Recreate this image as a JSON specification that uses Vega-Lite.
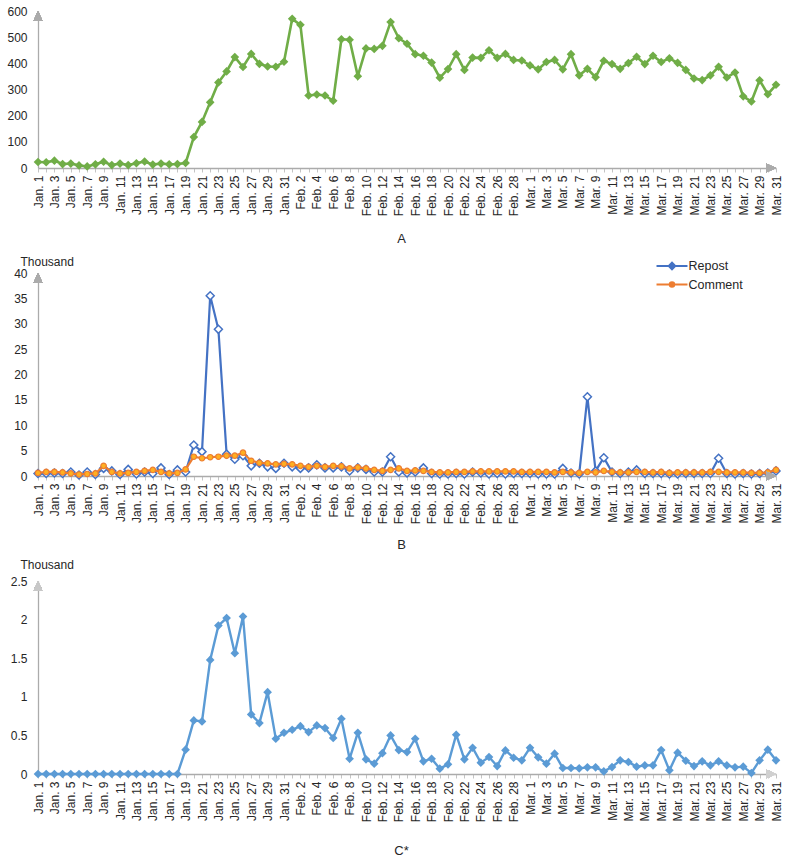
{
  "$schema": "https://vega.github.io/schema/vega-lite/v6.json",
  "background": "white",
  "padding": {"left": 6, "top": 5, "right": 5, "bottom": 5},
  "bounds": "flush",
  "spacing": 105,
  "config": {
    "font": "Liberation Sans",
    "view": {"stroke": null},
    "axis": {"grid": false, "labelFont": "Liberation Sans", "labelFontSize": 12, "labelColor": "#262626", "domainColor": "#ABABAB", "domainWidth": 1.3, "tickColor": "#C4C4C4", "titleFont": "Liberation Sans", "titleFontWeight": "normal", "titleFontSize": 13, "titleColor": "#262626"},
    "axisY": {"ticks": false, "labelPadding": 11, "labelOverlap": false, "labelFlush": false, "labelBound": false, "format": "~r"},
    "axisX": {"tickSize": 4, "labelAngle": -90, "labelPadding": 3, "labelOverlap": false, "labelFlush": false, "labelBound": false}
  },
  "resolve": {"scale": {"x": "independent", "y": "independent", "stroke": "independent"}},
  "datasets": {
    "a": [
      {"day":1,"date":"Jan. 1","value":23},{"day":2,"date":"Jan. 2","value":22},{"day":3,"date":"Jan. 3","value":28},{"day":4,"date":"Jan. 4","value":15},{"day":5,"date":"Jan. 5","value":17},{"day":6,"date":"Jan. 6","value":10},{"day":7,"date":"Jan. 7","value":6},{"day":8,"date":"Jan. 8","value":14},{"day":9,"date":"Jan. 9","value":24},{"day":10,"date":"Jan. 10","value":11},{"day":11,"date":"Jan. 11","value":17},{"day":12,"date":"Jan. 12","value":11},{"day":13,"date":"Jan. 13","value":18},{"day":14,"date":"Jan. 14","value":25},{"day":15,"date":"Jan. 15","value":13},{"day":16,"date":"Jan. 16","value":17},{"day":17,"date":"Jan. 17","value":14},{"day":18,"date":"Jan. 18","value":15},{"day":19,"date":"Jan. 19","value":19},{"day":20,"date":"Jan. 20","value":118},{"day":21,"date":"Jan. 21","value":176},{"day":22,"date":"Jan. 22","value":251},{"day":23,"date":"Jan. 23","value":327},{"day":24,"date":"Jan. 24","value":369},{"day":25,"date":"Jan. 25","value":424},{"day":26,"date":"Jan. 26","value":386},{"day":27,"date":"Jan. 27","value":436},{"day":28,"date":"Jan. 28","value":398},{"day":29,"date":"Jan. 29","value":388},{"day":30,"date":"Jan. 30","value":387},{"day":31,"date":"Jan. 31","value":406},
      {"day":32,"date":"Feb. 1","value":570},{"day":33,"date":"Feb. 2","value":547},{"day":34,"date":"Feb. 3","value":277},{"day":35,"date":"Feb. 4","value":281},{"day":36,"date":"Feb. 5","value":277},{"day":37,"date":"Feb. 6","value":257},{"day":38,"date":"Feb. 7","value":492},{"day":39,"date":"Feb. 8","value":490},{"day":40,"date":"Feb. 9","value":351},{"day":41,"date":"Feb. 10","value":457},{"day":42,"date":"Feb. 11","value":455},{"day":43,"date":"Feb. 12","value":467},{"day":44,"date":"Feb. 13","value":558},{"day":45,"date":"Feb. 14","value":496},{"day":46,"date":"Feb. 15","value":475},{"day":47,"date":"Feb. 16","value":435},{"day":48,"date":"Feb. 17","value":429},{"day":49,"date":"Feb. 18","value":403},{"day":50,"date":"Feb. 19","value":345},{"day":51,"date":"Feb. 20","value":378},{"day":52,"date":"Feb. 21","value":435},{"day":53,"date":"Feb. 22","value":375},{"day":54,"date":"Feb. 23","value":422},{"day":55,"date":"Feb. 24","value":421},{"day":56,"date":"Feb. 25","value":450},{"day":57,"date":"Feb. 26","value":421},{"day":58,"date":"Feb. 27","value":436},{"day":59,"date":"Feb. 28","value":413},{"day":60,"date":"Feb. 29","value":411},
      {"day":61,"date":"Mar. 1","value":392},{"day":62,"date":"Mar. 2","value":377},{"day":63,"date":"Mar. 3","value":405},{"day":64,"date":"Mar. 4","value":413},{"day":65,"date":"Mar. 5","value":377},{"day":66,"date":"Mar. 6","value":435},{"day":67,"date":"Mar. 7","value":354},{"day":68,"date":"Mar. 8","value":379},{"day":69,"date":"Mar. 9","value":347},{"day":70,"date":"Mar. 10","value":410},{"day":71,"date":"Mar. 11","value":397},{"day":72,"date":"Mar. 12","value":379},{"day":73,"date":"Mar. 13","value":401},{"day":74,"date":"Mar. 14","value":425},{"day":75,"date":"Mar. 15","value":397},{"day":76,"date":"Mar. 16","value":429},{"day":77,"date":"Mar. 17","value":405},{"day":78,"date":"Mar. 18","value":419},{"day":79,"date":"Mar. 19","value":402},{"day":80,"date":"Mar. 20","value":375},{"day":81,"date":"Mar. 21","value":342},{"day":82,"date":"Mar. 22","value":336},{"day":83,"date":"Mar. 23","value":354},{"day":84,"date":"Mar. 24","value":387},{"day":85,"date":"Mar. 25","value":346},{"day":86,"date":"Mar. 26","value":365},{"day":87,"date":"Mar. 27","value":274},{"day":88,"date":"Mar. 28","value":254},{"day":89,"date":"Mar. 29","value":335},{"day":90,"date":"Mar. 30","value":282},{"day":91,"date":"Mar. 31","value":318}
    ],
    "b": [
      {"day":1,"date":"Jan. 1","Repost":0.5,"Comment":0.6},{"day":2,"date":"Jan. 2","Repost":0.5,"Comment":0.8},{"day":3,"date":"Jan. 3","Repost":0.6,"Comment":0.8},{"day":4,"date":"Jan. 4","Repost":0.5,"Comment":0.7},{"day":5,"date":"Jan. 5","Repost":0.8,"Comment":0.5},{"day":6,"date":"Jan. 6","Repost":0.2,"Comment":0.3},{"day":7,"date":"Jan. 7","Repost":0.8,"Comment":0.4},{"day":8,"date":"Jan. 8","Repost":0.3,"Comment":0.5},{"day":9,"date":"Jan. 9","Repost":1.5,"Comment":2.0},{"day":10,"date":"Jan. 10","Repost":1.0,"Comment":0.8},{"day":11,"date":"Jan. 11","Repost":0.3,"Comment":0.5},{"day":12,"date":"Jan. 12","Repost":1.3,"Comment":0.6},{"day":13,"date":"Jan. 13","Repost":0.4,"Comment":0.8},{"day":14,"date":"Jan. 14","Repost":0.8,"Comment":1.0},{"day":15,"date":"Jan. 15","Repost":0.5,"Comment":1.2},{"day":16,"date":"Jan. 16","Repost":1.6,"Comment":0.8},{"day":17,"date":"Jan. 17","Repost":0.3,"Comment":0.5},{"day":18,"date":"Jan. 18","Repost":1.2,"Comment":0.6},{"day":19,"date":"Jan. 19","Repost":0.8,"Comment":1.3},{"day":20,"date":"Jan. 20","Repost":6.1,"Comment":3.8},{"day":21,"date":"Jan. 21","Repost":4.8,"Comment":3.5},{"day":22,"date":"Jan. 22","Repost":35.5,"Comment":3.7},{"day":23,"date":"Jan. 23","Repost":28.9,"Comment":3.8},{"day":24,"date":"Jan. 24","Repost":4.3,"Comment":4.0},{"day":25,"date":"Jan. 25","Repost":3.3,"Comment":4.0},{"day":26,"date":"Jan. 26","Repost":4.0,"Comment":4.6},{"day":27,"date":"Jan. 27","Repost":2.0,"Comment":3.0},{"day":28,"date":"Jan. 28","Repost":2.5,"Comment":2.6},{"day":29,"date":"Jan. 29","Repost":1.8,"Comment":2.5},{"day":30,"date":"Jan. 30","Repost":1.5,"Comment":2.3},{"day":31,"date":"Jan. 31","Repost":2.5,"Comment":2.4},
      {"day":32,"date":"Feb. 1","Repost":1.8,"Comment":2.3},{"day":33,"date":"Feb. 2","Repost":1.5,"Comment":2.0},{"day":34,"date":"Feb. 3","Repost":1.6,"Comment":1.8},{"day":35,"date":"Feb. 4","Repost":2.2,"Comment":2.0},{"day":36,"date":"Feb. 5","Repost":1.6,"Comment":1.8},{"day":37,"date":"Feb. 6","Repost":1.6,"Comment":2.0},{"day":38,"date":"Feb. 7","Repost":1.8,"Comment":1.9},{"day":39,"date":"Feb. 8","Repost":1.0,"Comment":1.5},{"day":40,"date":"Feb. 9","Repost":1.6,"Comment":1.7},{"day":41,"date":"Feb. 10","Repost":1.3,"Comment":1.5},{"day":42,"date":"Feb. 11","Repost":0.8,"Comment":1.2},{"day":43,"date":"Feb. 12","Repost":0.8,"Comment":1.0},{"day":44,"date":"Feb. 13","Repost":3.8,"Comment":1.2},{"day":45,"date":"Feb. 14","Repost":0.8,"Comment":1.5},{"day":46,"date":"Feb. 15","Repost":0.6,"Comment":1.0},{"day":47,"date":"Feb. 16","Repost":0.8,"Comment":1.1},{"day":48,"date":"Feb. 17","Repost":1.6,"Comment":1.0},{"day":49,"date":"Feb. 18","Repost":0.5,"Comment":0.8},{"day":50,"date":"Feb. 19","Repost":0.4,"Comment":0.7},{"day":51,"date":"Feb. 20","Repost":0.4,"Comment":0.7},{"day":52,"date":"Feb. 21","Repost":0.5,"Comment":0.8},{"day":53,"date":"Feb. 22","Repost":0.4,"Comment":0.8},{"day":54,"date":"Feb. 23","Repost":0.8,"Comment":0.9},{"day":55,"date":"Feb. 24","Repost":0.6,"Comment":0.9},{"day":56,"date":"Feb. 25","Repost":0.4,"Comment":0.9},{"day":57,"date":"Feb. 26","Repost":0.5,"Comment":0.9},{"day":58,"date":"Feb. 27","Repost":0.4,"Comment":0.9},{"day":59,"date":"Feb. 28","Repost":0.5,"Comment":0.9},{"day":60,"date":"Feb. 29","Repost":0.5,"Comment":0.8},
      {"day":61,"date":"Mar. 1","Repost":0.5,"Comment":0.8},{"day":62,"date":"Mar. 2","Repost":0.4,"Comment":0.8},{"day":63,"date":"Mar. 3","Repost":0.4,"Comment":0.8},{"day":64,"date":"Mar. 4","Repost":0.4,"Comment":0.7},{"day":65,"date":"Mar. 5","Repost":1.5,"Comment":0.8},{"day":66,"date":"Mar. 6","Repost":0.6,"Comment":0.7},{"day":67,"date":"Mar. 7","Repost":0.4,"Comment":0.6},{"day":68,"date":"Mar. 8","Repost":15.6,"Comment":0.8},{"day":69,"date":"Mar. 9","Repost":1.0,"Comment":0.7},{"day":70,"date":"Mar. 10","Repost":3.6,"Comment":1.0},{"day":71,"date":"Mar. 11","Repost":0.8,"Comment":0.8},{"day":72,"date":"Mar. 12","Repost":0.5,"Comment":0.7},{"day":73,"date":"Mar. 13","Repost":0.8,"Comment":0.7},{"day":74,"date":"Mar. 14","Repost":1.2,"Comment":0.8},{"day":75,"date":"Mar. 15","Repost":0.5,"Comment":0.8},{"day":76,"date":"Mar. 16","Repost":0.5,"Comment":0.7},{"day":77,"date":"Mar. 17","Repost":0.5,"Comment":0.8},{"day":78,"date":"Mar. 18","Repost":0.4,"Comment":0.6},{"day":79,"date":"Mar. 19","Repost":0.4,"Comment":0.7},{"day":80,"date":"Mar. 20","Repost":0.5,"Comment":0.7},{"day":81,"date":"Mar. 21","Repost":0.5,"Comment":0.7},{"day":82,"date":"Mar. 22","Repost":0.5,"Comment":0.7},{"day":83,"date":"Mar. 23","Repost":0.5,"Comment":0.8},{"day":84,"date":"Mar. 24","Repost":3.5,"Comment":0.8},{"day":85,"date":"Mar. 25","Repost":0.5,"Comment":0.7},{"day":86,"date":"Mar. 26","Repost":0.4,"Comment":0.7},{"day":87,"date":"Mar. 27","Repost":0.5,"Comment":0.7},{"day":88,"date":"Mar. 28","Repost":0.4,"Comment":0.6},{"day":89,"date":"Mar. 29","Repost":0.5,"Comment":0.6},{"day":90,"date":"Mar. 30","Repost":0.6,"Comment":0.7},{"day":91,"date":"Mar. 31","Repost":1.0,"Comment":1.2}
    ],
    "c": [
      {"day":1,"date":"Jan. 1","value":0},{"day":2,"date":"Jan. 2","value":0},{"day":3,"date":"Jan. 3","value":0},{"day":4,"date":"Jan. 4","value":0},{"day":5,"date":"Jan. 5","value":0},{"day":6,"date":"Jan. 6","value":0},{"day":7,"date":"Jan. 7","value":0},{"day":8,"date":"Jan. 8","value":0},{"day":9,"date":"Jan. 9","value":0},{"day":10,"date":"Jan. 10","value":0},{"day":11,"date":"Jan. 11","value":0},{"day":12,"date":"Jan. 12","value":0},{"day":13,"date":"Jan. 13","value":0},{"day":14,"date":"Jan. 14","value":0},{"day":15,"date":"Jan. 15","value":0},{"day":16,"date":"Jan. 16","value":0},{"day":17,"date":"Jan. 17","value":0},{"day":18,"date":"Jan. 18","value":0},{"day":19,"date":"Jan. 19","value":0.315},{"day":20,"date":"Jan. 20","value":0.694},{"day":21,"date":"Jan. 21","value":0.681},{"day":22,"date":"Jan. 22","value":1.478},{"day":23,"date":"Jan. 23","value":1.922},{"day":24,"date":"Jan. 24","value":2.02},{"day":25,"date":"Jan. 25","value":1.565},{"day":26,"date":"Jan. 26","value":2.04},{"day":27,"date":"Jan. 27","value":0.772},{"day":28,"date":"Jan. 28","value":0.66},{"day":29,"date":"Jan. 29","value":1.06},{"day":30,"date":"Jan. 30","value":0.457},{"day":31,"date":"Jan. 31","value":0.534},
      {"day":32,"date":"Feb. 1","value":0.573},{"day":33,"date":"Feb. 2","value":0.62},{"day":34,"date":"Feb. 3","value":0.543},{"day":35,"date":"Feb. 4","value":0.629},{"day":36,"date":"Feb. 5","value":0.595},{"day":37,"date":"Feb. 6","value":0.466},{"day":38,"date":"Feb. 7","value":0.716},{"day":39,"date":"Feb. 8","value":0.198},{"day":40,"date":"Feb. 9","value":0.534},{"day":41,"date":"Feb. 10","value":0.19},{"day":42,"date":"Feb. 11","value":0.134},{"day":43,"date":"Feb. 12","value":0.27},{"day":44,"date":"Feb. 13","value":0.5},{"day":45,"date":"Feb. 14","value":0.31},{"day":46,"date":"Feb. 15","value":0.284},{"day":47,"date":"Feb. 16","value":0.457},{"day":48,"date":"Feb. 17","value":0.164},{"day":49,"date":"Feb. 18","value":0.198},{"day":50,"date":"Feb. 19","value":0.069},{"day":51,"date":"Feb. 20","value":0.125},{"day":52,"date":"Feb. 21","value":0.509},{"day":53,"date":"Feb. 22","value":0.19},{"day":54,"date":"Feb. 23","value":0.34},{"day":55,"date":"Feb. 24","value":0.147},{"day":56,"date":"Feb. 25","value":0.22},{"day":57,"date":"Feb. 26","value":0.103},{"day":58,"date":"Feb. 27","value":0.306},{"day":59,"date":"Feb. 28","value":0.211},{"day":60,"date":"Feb. 29","value":0.177},
      {"day":61,"date":"Mar. 1","value":0.34},{"day":62,"date":"Mar. 2","value":0.216},{"day":63,"date":"Mar. 3","value":0.134},{"day":64,"date":"Mar. 4","value":0.263},{"day":65,"date":"Mar. 5","value":0.078},{"day":66,"date":"Mar. 6","value":0.078},{"day":67,"date":"Mar. 7","value":0.073},{"day":68,"date":"Mar. 8","value":0.086},{"day":69,"date":"Mar. 9","value":0.086},{"day":70,"date":"Mar. 10","value":0.034},{"day":71,"date":"Mar. 11","value":0.09},{"day":72,"date":"Mar. 12","value":0.177},{"day":73,"date":"Mar. 13","value":0.155},{"day":74,"date":"Mar. 14","value":0.095},{"day":75,"date":"Mar. 15","value":0.112},{"day":76,"date":"Mar. 16","value":0.112},{"day":77,"date":"Mar. 17","value":0.31},{"day":78,"date":"Mar. 18","value":0.047},{"day":79,"date":"Mar. 19","value":0.276},{"day":80,"date":"Mar. 20","value":0.172},{"day":81,"date":"Mar. 21","value":0.103},{"day":82,"date":"Mar. 22","value":0.164},{"day":83,"date":"Mar. 23","value":0.112},{"day":84,"date":"Mar. 24","value":0.164},{"day":85,"date":"Mar. 25","value":0.112},{"day":86,"date":"Mar. 26","value":0.086},{"day":87,"date":"Mar. 27","value":0.095},{"day":88,"date":"Mar. 28","value":0.013},{"day":89,"date":"Mar. 29","value":0.177},{"day":90,"date":"Mar. 30","value":0.315},{"day":91,"date":"Mar. 31","value":0.177}
    ]
  },
  "vconcat": [
    {
      "width": 738,
      "height": 157,
      "data": {"name": "a"},
      "encoding": {
        "x": {"field": "day", "type": "quantitative", "scale": {"domain": [1, 91], "nice": false, "zero": false},
          "axis": {"title": "A", "titleY": 70, "titleX": 363, "titleBaseline": "middle",
            "values": [1,2,3,4,5,6,7,8,9,10,11,12,13,14,15,16,17,18,19,20,21,22,23,24,25,26,27,28,29,30,31,32,33,34,35,36,37,38,39,40,41,42,43,44,45,46,47,48,49,50,51,52,53,54,55,56,57,58,59,60,61,62,63,64,65,66,67,68,69,70,71,72,73,74,75,76,77,78,79,80,81,82,83,84,85,86,87,88,89,90,91],
            "labelExpr": "datum.value % 2 == 1 ? (datum.value <= 31 ? 'Jan. ' + datum.value : datum.value <= 60 ? 'Feb. ' + (datum.value - 31) : 'Mar. ' + (datum.value - 60)) : ''"}},
        "y": {"field": "value", "type": "quantitative", "scale": {"domain": [0, 600], "nice": false},
          "axis": {"title": null, "values": [0, 100, 200, 300, 400, 500, 600]}}
      },
      "layer": [
        {"mark": {"type": "line", "color": "#70AD47", "strokeWidth": 2.6}},
        {"mark": {"type": "point", "shape": "diamond", "filled": true, "size": 75, "color": "#70AD47", "opacity": 1}},
        {"mark": {"type": "point", "shape": "M0,0L-0.45,1L0.45,1Z", "size": 400, "filled": true, "color": "#ABABAB", "opacity": 1},
          "encoding": {"x": {"datum": 1, "type": "quantitative"}, "y": {"datum": 600, "type": "quantitative"}}},
        {"mark": {"type": "point", "shape": "M0,0L-1,-0.45L-1,0.45Z", "size": 400, "filled": true, "color": "#ABABAB", "opacity": 1},
          "encoding": {"x": {"datum": 91, "type": "quantitative"}, "y": {"datum": 0, "type": "quantitative"}}}
      ]
    },
    {
      "width": 738,
      "height": 203,
      "data": {"name": "b"},
      "transform": [{"fold": ["Repost", "Comment"], "as": ["series", "value"]}],
      "encoding": {
        "x": {"field": "day", "type": "quantitative", "scale": {"domain": [1, 91], "nice": false, "zero": false},
          "axis": {"title": "B", "titleY": 68, "titleX": 363, "titleBaseline": "middle",
            "values": [1,2,3,4,5,6,7,8,9,10,11,12,13,14,15,16,17,18,19,20,21,22,23,24,25,26,27,28,29,30,31,32,33,34,35,36,37,38,39,40,41,42,43,44,45,46,47,48,49,50,51,52,53,54,55,56,57,58,59,60,61,62,63,64,65,66,67,68,69,70,71,72,73,74,75,76,77,78,79,80,81,82,83,84,85,86,87,88,89,90,91],
            "labelExpr": "datum.value % 2 == 1 ? (datum.value <= 31 ? 'Jan. ' + datum.value : datum.value <= 60 ? 'Feb. ' + (datum.value - 31) : 'Mar. ' + (datum.value - 60)) : ''"}},
        "y": {"field": "value", "type": "quantitative", "scale": {"domain": [0, 40], "nice": false},
          "axis": {"title": "Thousand", "titleAngle": 0, "titleAlign": "left", "titleX": -18, "titleY": -12, "titleBaseline": "middle", "titleFontSize": 12, "values": [0, 5, 10, 15, 20, 25, 30, 35, 40]}}
      },
      "layer": [
        {"transform": [{"filter": "datum.series === 'Repost'"}],
          "mark": {"type": "line", "strokeWidth": 2.2},
          "encoding": {"stroke": {"field": "series", "type": "nominal", "scale": {"domain": ["Repost", "Comment"], "range": ["#4472C4", "#ED7D31"]},
            "legend": {"orient": "none", "legendX": 625, "legendY": -16, "title": null, "direction": "vertical", "labelFontSize": 12.5, "labelColor": "#262626", "symbolSize": 240, "symbolStrokeWidth": 2.2, "labelOffset": 7.5, "rowPadding": 1.5,
              "encode": {"symbols": {"update": {
                "shape": {"signal": "datum.value === 'Repost' ? 'M-2,0H2M0,-0.4L0.4,0L0,0.4L-0.4,0Z' : 'M-2,0H2M0.28,0A0.28,0.28,0,1,1,-0.28,0A0.28,0.28,0,1,1,0.28,0'"},
                "fill": {"signal": "datum.value === 'Repost' ? '#4472C4' : '#FFB020'"}}}}}}}},
        {"transform": [{"filter": "datum.series === 'Repost'"}],
          "mark": {"type": "point", "shape": "diamond", "filled": true, "fill": "white", "size": 64, "strokeWidth": 1.5, "opacity": 1},
          "encoding": {"stroke": {"field": "series", "type": "nominal"}}},
        {"transform": [{"filter": "datum.series === 'Comment'"}],
          "mark": {"type": "line", "strokeWidth": 2.2},
          "encoding": {"stroke": {"field": "series", "type": "nominal"}}},
        {"transform": [{"filter": "datum.series === 'Comment'"}],
          "mark": {"type": "point", "shape": "circle", "filled": true, "fill": "#FFB020", "size": 30, "strokeWidth": 1.2, "opacity": 1},
          "encoding": {"stroke": {"field": "series", "type": "nominal"}}},
        {"mark": {"type": "point", "shape": "M0,0L-0.45,1L0.45,1Z", "size": 400, "filled": true, "color": "#ABABAB", "opacity": 1},
          "encoding": {"x": {"datum": 1, "type": "quantitative"}, "y": {"datum": 40, "type": "quantitative"}}},
        {"mark": {"type": "point", "shape": "M0,0L-1,-0.45L-1,0.45Z", "size": 400, "filled": true, "color": "#ABABAB", "opacity": 1},
          "encoding": {"x": {"datum": 91, "type": "quantitative"}, "y": {"datum": 0, "type": "quantitative"}}}
      ]
    },
    {
      "width": 738,
      "height": 193,
      "data": {"name": "c"},
      "encoding": {
        "x": {"field": "day", "type": "quantitative", "scale": {"domain": [1, 91], "nice": false, "zero": false},
          "axis": {"title": "C*", "titleY": 76, "titleX": 363, "titleBaseline": "middle",
            "values": [1,2,3,4,5,6,7,8,9,10,11,12,13,14,15,16,17,18,19,20,21,22,23,24,25,26,27,28,29,30,31,32,33,34,35,36,37,38,39,40,41,42,43,44,45,46,47,48,49,50,51,52,53,54,55,56,57,58,59,60,61,62,63,64,65,66,67,68,69,70,71,72,73,74,75,76,77,78,79,80,81,82,83,84,85,86,87,88,89,90,91],
            "labelExpr": "datum.value % 2 == 1 ? (datum.value <= 31 ? 'Jan. ' + datum.value : datum.value <= 60 ? 'Feb. ' + (datum.value - 31) : 'Mar. ' + (datum.value - 60)) : ''"}},
        "y": {"field": "value", "type": "quantitative", "scale": {"domain": [0, 2.5], "nice": false},
          "axis": {"title": "Thousand", "titleAngle": 0, "titleAlign": "left", "titleX": -18, "titleY": -17, "titleBaseline": "middle", "titleFontSize": 12, "values": [0, 0.5, 1, 1.5, 2, 2.5]}}
      },
      "layer": [
        {"mark": {"type": "line", "color": "#5B9BD5", "strokeWidth": 2.4}},
        {"mark": {"type": "point", "shape": "diamond", "filled": true, "size": 75, "color": "#5B9BD5", "opacity": 1}},
        {"mark": {"type": "point", "shape": "M0,0L-0.45,1L0.45,1Z", "size": 400, "filled": true, "color": "#C8C8C8", "opacity": 1},
          "encoding": {"x": {"datum": 1, "type": "quantitative"}, "y": {"datum": 2.5, "type": "quantitative"}}},
        {"mark": {"type": "point", "shape": "M0,0L-1,-0.45L-1,0.45Z", "size": 400, "filled": true, "color": "#D0D0D0", "opacity": 1},
          "encoding": {"x": {"datum": 91, "type": "quantitative"}, "y": {"datum": 0, "type": "quantitative"}}}
      ]
    }
  ]
}
